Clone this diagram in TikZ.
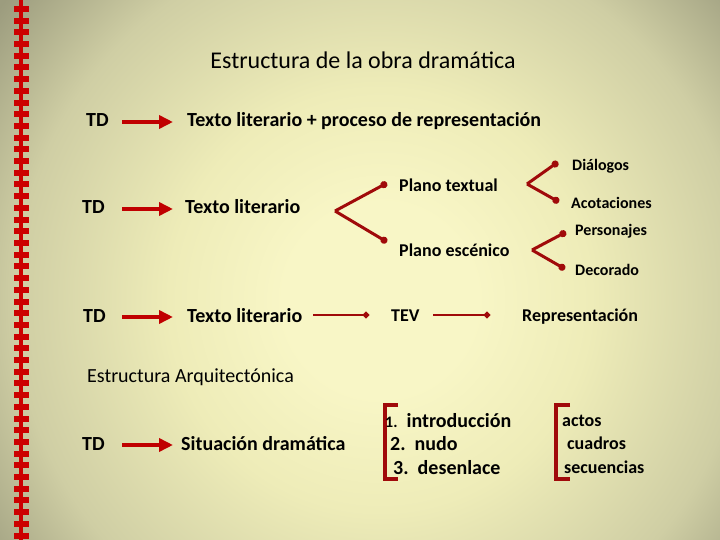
\documentclass[tikz,border=0pt]{standalone}
\usepackage{fontspec}
\setmainfont{Carlito}
\usetikzlibrary{arrows.meta}
\definecolor{bgin}{HTML}{F8F6C6}
\definecolor{bgmid}{HTML}{EEECB8}
\definecolor{bgmid2}{HTML}{CFCEA4}
\definecolor{bgout}{HTML}{9C9C7E}
\definecolor{arrred}{HTML}{C00000}
\definecolor{brred}{HTML}{A00A0A}
\definecolor{zipred}{HTML}{CC0000}
\pgfdeclareradialshading{bgshade}{\pgfpoint{0bp}{0bp}}{color(0bp)=(bgin); color(5bp)=(bgin); color(11bp)=(bgmid); color(19bp)=(bgmid2); color(25bp)=(bgout); color(50bp)=(bgout)}
\begin{document}
\begin{tikzpicture}[x=1pt,y=-1pt,
  txt/.style={anchor=west, inner sep=0pt, text height=14pt, text depth=4pt, font=\bfseries\fontsize{20}{22}\selectfont},
  txtr/.style={anchor=west, inner sep=0pt, text height=14pt, text depth=4pt, font=\fontsize{20}{22}\selectfont},
  mid/.style={anchor=west, inner sep=0pt, text height=12.5pt, text depth=3.5pt, font=\bfseries\fontsize{18}{20}\selectfont},
  small/.style={anchor=west, inner sep=0pt, text height=11pt, text depth=3pt, font=\bfseries\fontsize{16}{18}\selectfont},
  arr/.style={arrred, line width=4pt, -{Triangle[length=14pt,width=13pt]}},
  br/.style={brred, line width=3pt, -{Circle[length=7pt]}},
  thin/.style={brred, line width=2.5pt, -{Circle[length=6pt]}},
  brk/.style={brred, line width=4pt}
]
\useasboundingbox (0,0) rectangle (720,540);
\begin{scope}
  \clip (0,0) rectangle (720,540);
  \fill[bgout] (0,0) rectangle (720,540);
  \shade[shading=bgshade] (380,300) circle (480);
\end{scope}
% zipper border
\fill[zipred] (19,0) rectangle (23,540);
\foreach \i in {0,...,45} \fill[zipred] (14,6+\i*11.7) rectangle (29,12+\i*11.7);

% title
\node[txtr, anchor=center, font=\fontsize{24}{26}\selectfont, text height=17pt, text depth=5pt] (title) at (363,63) {Estructura de la obra dramática};

% row 1
\node[txt] (td1) at (86,122) {TD};
\node[txt] (t1) at (187,122) {Texto literario + proceso de representación};
\coordinate (a1s) at (122,122); \coordinate (a1e) at (173,122);
\draw[arr] (a1s) -- (a1e);

% row 2
\node[txt] (td2) at (82,209) {TD};
\node[txt] (t2) at (185,209) {Texto literario};
\coordinate (a2s) at (122,209); \coordinate (a2e) at (173,209);
\draw[arr] (a2s) -- (a2e);

\node[mid] (pt) at (399,187) {Plano textual};
\node[mid] (pe) at (399,252) {Plano escénico};
\coordinate (v1) at (335,211);
\coordinate (v1a) at (387,183);
\coordinate (v1b) at (387,242);
\draw[br] (v1) -- (v1a);
\draw[br] (v1) -- (v1b);

\node[small] (dia) at (572,167) {Diálogos};
\node[small] (aco) at (571,204) {Acotaciones};
\coordinate (v2) at (527,184);
\coordinate (v2a) at (558,162);
\coordinate (v2b) at (559,202);
\draw[br] (v2) -- (v2a);
\draw[br] (v2) -- (v2b);

\node[small] (per) at (575,232) {Personajes};
\node[small] (dec) at (575,271) {Decorado};
\coordinate (v3) at (532,250);
\coordinate (v3a) at (566,232);
\coordinate (v3b) at (565,269);
\draw[br] (v3) -- (v3a);
\draw[br] (v3) -- (v3b);

% row 3
\node[txt] (td3) at (83,317) {TD};
\node[txt] (t3) at (187,317) {Texto literario};
\coordinate (a3s) at (122,317); \coordinate (a3e) at (173,317);
\draw[arr] (a3s) -- (a3e);
\node[mid] (tev) at (391,317) {TEV};
\node[mid] (rep) at (522,317) {Representación};
\coordinate (l1s) at (313,315); \coordinate (l1e) at (369,315);
\coordinate (l2s) at (433,315); \coordinate (l2e) at (490,315);
\draw[thin] (l1s) -- (l1e);
\draw[thin] (l2s) -- (l2e);

% Estructura Arquitectonica
\node[txtr] (ea) at (87,377) {Estructura Arquitectónica};

% row 4
\node[txt] (td4) at (82,445) {TD};
\node[txt] (t4) at (181,445) {Situación dramática};
\coordinate (a4s) at (122,445); \coordinate (a4e) at (173,445);
\draw[arr] (a4s) -- (a4e);

\draw[brk] (398,405) -- (385,405) -- (385,479) -- (398,479);
\node[txt] (i1) at (385,422) {{\fontsize{16}{18}\selectfont 1.}\ \ introducción};
\node[txt] (i2) at (390,445) {2.\ \ nudo};
\node[txt] (i3) at (393,469) {3.\ \ desenlace};

\draw[brk] (570,405) -- (556,405) -- (556,479) -- (570,479);
\node[mid] (c1) at (562,422) {actos};
\node[mid] (c2) at (567,445) {cuadros};
\node[mid] (c3) at (564,469) {secuencias};
\end{tikzpicture}
\end{document}
